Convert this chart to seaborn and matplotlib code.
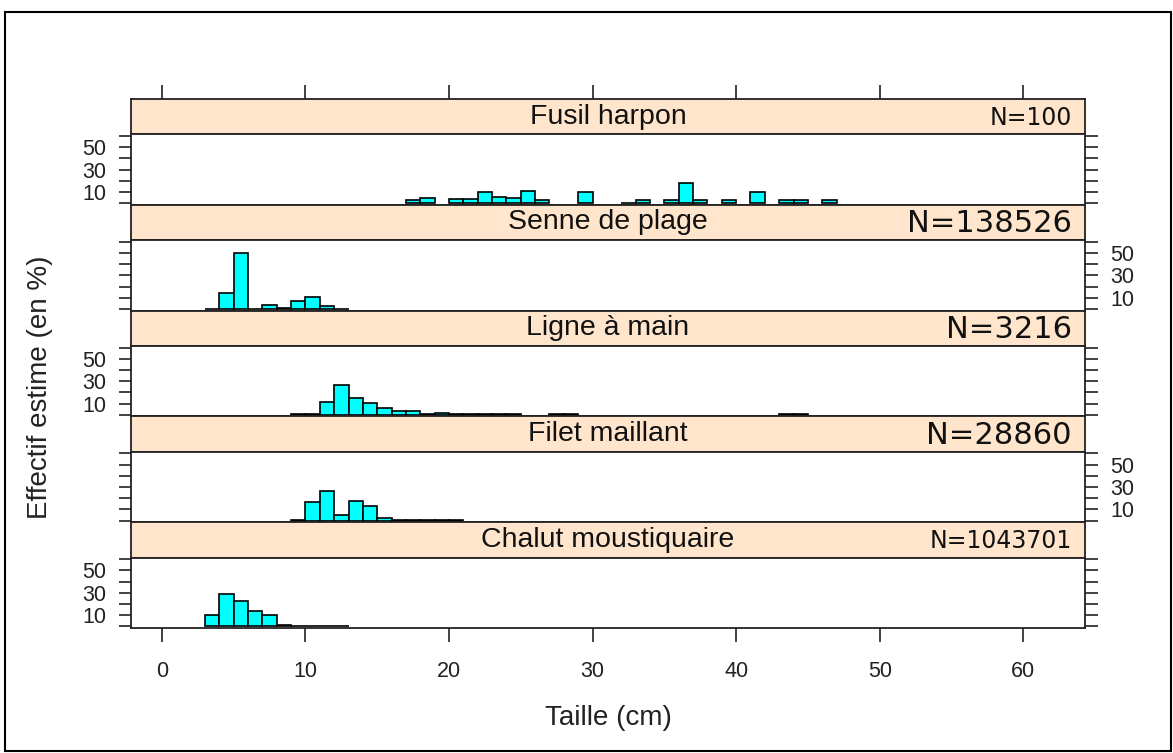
import numpy as np
import pandas as pd
import matplotlib
matplotlib.use("Agg")
import matplotlib.pyplot as plt
import seaborn as sns
from matplotlib.patches import Rectangle

# ---------------- data ----------------
gears = ["Fusil harpon", "Senne de plage", "Ligne à main", "Filet maillant", "Chalut moustiquaire"]
n_labels = ["N=100", "N=138526", "N=3216", "N=28860", "N=1043701"]

# left edge of each 1-cm size class (cm) and estimated share (%)
fusil_bins = [17, 18, 20, 21, 22, 23, 24, 25, 26, 29, 32, 33, 35, 36, 37, 39, 41, 43, 44, 46]
fusil_pct = [3.0, 5.0, 4.0, 4.0, 9.5, 5.8, 4.4, 11.2, 3.0, 9.5, 0.2, 2.8, 2.8, 18.0, 3.0, 2.8, 9.5, 2.8, 2.8, 2.8]

senne_bins = [3, 4, 5, 6, 7, 8, 9, 10, 11, 12]
senne_pct = [0.2, 14.5, 49.8, 0.3, 3.8, 0.4, 7.4, 11.0, 2.3, 0.3]

ligne_bins = [9, 10, 11, 12, 13, 14, 15, 16, 17, 18, 19, 20, 21, 22, 23, 24, 27, 28, 43, 44]
ligne_pct = [0.2, 0.3, 11.8, 27.0, 15.2, 10.4, 6.2, 3.7, 3.7, 0.3, 1.9, 0.3, 0.3, 0.3, 0.3, 0.3, 0.3, 0.3, 0.3, 0.3]

filet_bins = [9, 10, 11, 12, 13, 14, 15, 16, 17, 18, 19, 20]
filet_pct = [0.3, 16.4, 26.4, 5.2, 17.3, 12.8, 2.2, 0.3, 0.3, 0.3, 0.3, 0.3]

chalut_bins = [3, 4, 5, 6, 7, 8, 9, 10, 11, 12]
chalut_pct = [10.5, 29.0, 23.0, 14.1, 10.5, 1.6, 0.3, 0.3, 0.3, 0.3]

x_ticks = [0, 10, 20, 30, 40, 50, 60]
y_ticks = [0, 10, 20, 30, 40, 50, 60]
y_tick_labels = ["", "10", "", "30", "", "50", ""]

series = [(fusil_bins, fusil_pct), (senne_bins, senne_pct), (ligne_bins, ligne_pct),
          (filet_bins, filet_pct), (chalut_bins, chalut_pct)]

frames = []
for g, (b, p) in zip(gears, series):
    frames.append(pd.DataFrame({"gear": g, "taille": np.array(b, dtype=float) + 0.5,
                                "pct": np.array(p, dtype=float)}))
df = pd.concat(frames, ignore_index=True)

# ---------------- style ----------------
sns.set_theme(style="white")
plt.rcParams["font.family"] = ["Liberation Sans", "DejaVu Sans"]

W, H = 1173, 753
fig = plt.figure(figsize=(W / 100, H / 100), dpi=100)

left_px, right_px = 131, 1085
top_px, bottom_px = 99, 628
unit = (bottom_px - top_px) / 5
strip_h = 35.3
line_c = "#222222"
tick_c = "#333333"
n_sizes = [17, 22, 22, 22, 17]

def fx(px):
    return px / W

def fy(px):
    return 1 - px / H

for i, g in enumerate(gears):
    s_top = top_px + i * unit
    s_bot = s_top + strip_h
    p_bot = s_top + unit
    # strip
    sax = fig.add_axes([fx(left_px), fy(s_bot), fx(right_px - left_px), (s_bot - s_top) / H])
    sax.set_facecolor("#FFE5CC")
    sax.set_xlim(-2.15, 64.3)
    sax.set_ylim(0, 1)
    sax.set_yticks([])
    for sp in sax.spines.values():
        sp.set_color(line_c)
        sp.set_linewidth(1.3)
    if i == 0:
        sax.set_xticks(x_ticks)
        sax.tick_params(axis="x", which="both", top=True, bottom=False, labeltop=False,
                        labelbottom=False, direction="out", length=10, width=1.3, color=tick_c)
    else:
        sax.set_xticks([])
    sax.text(0.5, 0.5, g, transform=sax.transAxes, ha="center", va="center",
             fontsize=20.5, color="#111111", family="Liberation Sans")
    sax.text(0.986, 0.47, n_labels[i], transform=sax.transAxes, ha="right", va="center",
             fontsize=n_sizes[i], color="#111111", family="DejaVu Sans")

    # panel
    ax = fig.add_axes([fx(left_px), fy(p_bot), fx(right_px - left_px), (p_bot - s_bot) / H])
    sub = df[df["gear"] == g].reset_index(drop=True)
    lo = float(sub["taille"].min() - 0.5)
    hi = float(sub["taille"].max() + 0.5)
    sns.histplot(data=sub, x="taille", weights="pct", binwidth=1.0, binrange=(lo, hi),
                 stat="count", color="#00FFFF", edgecolor="black", linewidth=1.2,
                 alpha=1, ax=ax)
    for patch in list(ax.patches):
        if patch.get_height() == 0:
            patch.remove()
    ax.set_xlim(-2.15, 64.3)
    ax.set_ylim(-1.5, 61.5)
    ax.set_xlabel("")
    ax.set_ylabel("")
    ax.set_facecolor("white")
    for sp in ax.spines.values():
        sp.set_color(line_c)
        sp.set_linewidth(1.3)
    ax.set_yticks(y_ticks)
    ax.set_yticklabels(y_tick_labels)
    lab_left = (i % 2 == 0)
    ax.tick_params(axis="y", left=True, right=True, labelleft=lab_left, labelright=not lab_left,
                   direction="out", length=9, width=1.3, color=tick_c, labelsize=15.5,
                   labelcolor="#222222", pad=9)
    if i == 4:
        ax.set_xticks(x_ticks)
        ax.set_xticklabels([str(t) for t in x_ticks])
        ax.tick_params(axis="x", bottom=True, top=False, direction="out", length=10,
                       width=1.3, color=tick_c, labelsize=15.5, labelcolor="#222222", pad=14)
    else:
        ax.set_xticks([])

fig.text(fx(608), fy(718), "Taille (cm)", ha="center", va="center", fontsize=20, color="#222222")
fig.text(fx(40), fy(387), "Effectif estime (en %)", ha="center", va="center", rotation=90,
         fontsize=20, color="#222222")

fig.patches.append(Rectangle((fx(5), fy(751)), fx(1166), (751 - 12) / H, transform=fig.transFigure,
                             fill=False, edgecolor="black", linewidth=1.5))

fig.savefig("out.png", dpi=100)
